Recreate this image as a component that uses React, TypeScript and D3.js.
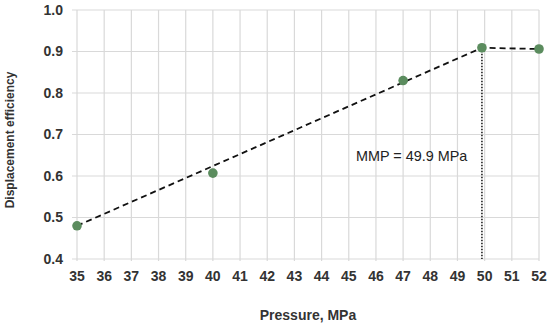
import React from "react";
import * as d3 from "d3";

// measured points
const pressure = [35, 40, 47, 49.9, 52];
const efficiency = [0.48, 0.607, 0.83, 0.909, 0.906];

// dashed trend: straight run up to MMP, then plateau
const trendX = [35, 49.9, 52];
const trendY = [0.48, 0.909, 0.906];

const mmp = 49.9;
const mmpLabel = "MMP = 49.9 MPa";

const xTicks = d3.range(35, 53);
const yTicks = [0.4, 0.5, 0.6, 0.7, 0.8, 0.9, 1.0];

const W = 550;
const H = 326;
const margin = { top: 10, right: 11, bottom: 67, left: 77 };

function App() {
  const x = d3.scaleLinear().domain([35, 52]).range([margin.left, W - margin.right]);
  const y = d3.scaleLinear().domain([0.4, 1.0]).range([H - margin.bottom, margin.top]);

  const line = d3
    .line<number>()
    .x(d => x(trendX[d]))
    .y(d => y(trendY[d]));

  const font = "'Liberation Sans', Arial, sans-serif";
  const bottom = y(0.4);

  return (
    <svg width={W} height={H} style={{ position: "absolute", left: 0, top: 0 }}>
      <rect width={W} height={H} fill="#fff" />
      {/* grid */}
      {yTicks.map(t => (
        <line key={"gy" + t} x1={x(35) - 5} x2={x(52)} y1={y(t)} y2={y(t)} stroke="#d9d9d9" strokeWidth={1.2} />
      ))}
      {xTicks.map(t => (
        <line key={"gx" + t} x1={x(t)} x2={x(t)} y1={y(1.0)} y2={bottom + 2} stroke="#d9d9d9" strokeWidth={1.2} />
      ))}
      {/* tick labels */}
      {yTicks.map(t => (
        <text key={"ly" + t} x={63} y={y(t)} dy="0.35em" textAnchor="end" fontFamily={font} fontWeight="bold" fontSize={14} fill="#333">
          {d3.format(".1f")(t)}
        </text>
      ))}
      {xTicks.map(t => (
        <text key={"lx" + t} x={x(t)} y={bottom + 22} textAnchor="middle" fontFamily={font} fontWeight="bold" fontSize={14} fill="#333">
          {t}
        </text>
      ))}
      {/* axis titles */}
      <text x={308} y={320} textAnchor="middle" fontFamily={font} fontWeight="bold" fontSize={14} fill="#333">
        Pressure, MPa
      </text>
      <text transform={`translate(14,140) rotate(-90)`} textAnchor="middle" fontFamily={font} fontWeight="bold" fontSize={12} fill="#333">
        Displacement efficiency
      </text>
      {/* MMP marker */}
      <line x1={x(mmp)} x2={x(mmp)} y1={y(0.909)} y2={bottom} stroke="#111" strokeWidth={1.5} strokeDasharray="1.5,1.5" />
      <path d={line(d3.range(trendX.length)) || ""} fill="none" stroke="#111" strokeWidth={1.8} strokeDasharray="6,4" />
      {pressure.map((p, i) => (
        <circle key={"p" + i} cx={x(p)} cy={y(efficiency[i])} r={4.8} fill="#5b8c5e" />
      ))}
      <text x={356} y={161} fontFamily={font} fontSize={14.4} fill="#222">
        {mmpLabel}
      </text>
    </svg>
  );
}

export default App;
